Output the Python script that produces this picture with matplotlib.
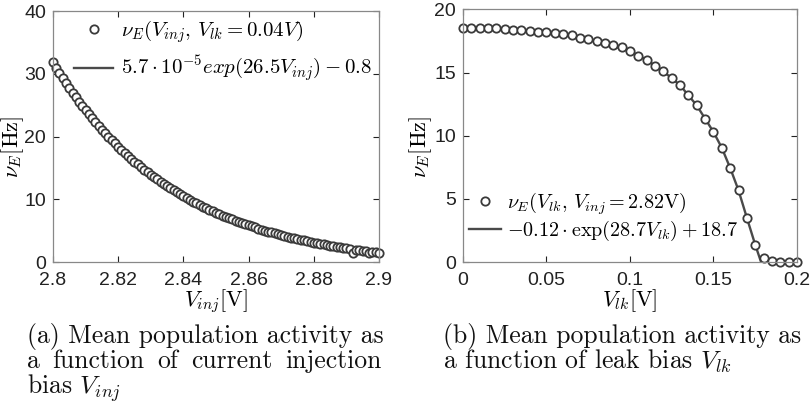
import matplotlib
matplotlib.use("Agg")
import matplotlib.pyplot as plt
import numpy as np
from matplotlib.ticker import FormatStrFormatter

plt.rcParams['mathtext.fontset'] = 'cm'
plt.rcParams['font.family'] = ['Liberation Sans', 'DejaVu Sans']

# --- data ---
# (a) rate vs. injection bias, Vlk = 0.04 V
inj_v = np.linspace(2.8, 2.9, 101)
inj_nu = [31.80, 30.95, 30.12, 29.31, 28.52, 27.75, 27.00, 26.28, 25.57, 24.88,
          24.21, 23.55, 22.92, 22.30, 21.69, 21.10, 20.53, 19.97, 19.43, 18.90,
          18.38, 17.88, 17.39, 16.92, 16.45, 16.00, 15.56, 15.13, 14.72, 14.31,
          13.92, 13.53, 13.16, 12.79, 12.44, 12.09, 11.75, 11.42, 11.10, 10.79,
          10.49, 10.19, 9.91, 9.63, 9.35, 9.09, 8.83, 8.58, 8.33, 8.09,
          7.86, 7.63, 7.41, 7.20, 6.99, 6.78, 6.59, 6.39, 6.20, 6.02,
          5.84, 5.67, 5.50, 5.33, 5.17, 5.02, 4.86, 4.72, 4.57, 4.43,
          4.29, 4.16, 4.03, 3.90, 3.78, 3.66, 3.54, 3.43, 3.32, 3.21,
          3.05, 3.00, 2.90, 2.81, 2.71, 2.62, 2.53, 2.44, 2.36, 2.28,
          2.20, 2.12, 1.45, 1.97, 1.89, 1.82, 1.76, 1.45, 1.55, 1.56, 1.50]
inj_fit_nu = [31.8, 24.2, 18.4, 13.9, 10.5, 7.9, 5.85, 4.3, 3.1, 2.2, 1.5]
inj_fit_v = [2.80, 2.81, 2.82, 2.83, 2.84, 2.85, 2.86, 2.87, 2.88, 2.89, 2.90]

# (b) rate vs. leak bias, Vinj = 2.82 V
lk_v = np.linspace(0.0, 0.2, 41)
lk_nu = [18.57, 18.57, 18.57, 18.55, 18.50, 18.44, 18.40, 18.36, 18.30, 18.23,
         18.18, 18.15, 18.05, 17.94, 17.78, 17.65, 17.50, 17.36, 17.20, 17.00,
         16.70, 16.33, 16.00, 15.56, 15.10, 14.60, 14.00, 13.26, 12.40, 11.36,
         10.30, 9.04, 7.45, 5.68, 3.50, 1.37, 0.34, 0.05, 0.0, 0.0, 0.0]
lk_fit_v = [0.0, 0.02, 0.04, 0.06, 0.08, 0.10, 0.11, 0.12, 0.13, 0.14, 0.15,
            0.155, 0.16, 0.165, 0.17, 0.175, 0.1785]
lk_fit_nu = [18.58, 18.50, 18.30, 18.05, 17.50, 16.70, 16.00, 15.10, 14.00, 12.40,
             10.30, 9.04, 7.45, 5.68, 3.50, 1.37, 0.0]

inj_ticks_x = [2.8, 2.82, 2.84, 2.86, 2.88, 2.9]
inj_ticks_y = [0, 10, 20, 30, 40]
lk_ticks_x = [0, 0.05, 0.1, 0.15, 0.2]
lk_ticks_y = [0, 5, 10, 15, 20]

caption_a = ["(a) Mean population activity as",
             "a function of current injection",
             r"bias $V_{inj}$"]
caption_b = ["(b) Mean population activity as",
             r"a function of leak bias $V_{lk}$"]

mk = dict(ls='none', marker='o', ms=6, mfc='white', mec='#3a3a3a', mew=1.3)
ln = dict(color='#4a4a4a', lw=1.7)


def style_axes(ax):
    ax.tick_params(direction='in', length=4, top=True, right=True,
                   labelsize=14, colors='#222222', pad=5)
    ax.tick_params(axis='x', pad=7)
    for s in ax.spines.values():
        s.set_color('#888888')
        s.set_linewidth(0.9)
    ax.xaxis.set_major_formatter(FormatStrFormatter('%g'))
    ax.yaxis.set_major_formatter(FormatStrFormatter('%g'))


fig = plt.figure(figsize=(8.1, 4.09), dpi=100)

# --- panel (a) ---
ax1 = fig.add_axes([0.0654, 0.3594, 0.4025, 0.6137])
ax1.plot(inj_fit_v, inj_fit_nu, label=r'$5.7\cdot10^{-5}exp(26.5V_{inj})-0.8$', **ln)
ax1.plot(inj_v, inj_nu, label=r'$\nu_E(V_{inj},\, V_{lk}=0.04V)$', clip_on=False, **mk)
ax1.set_xlim(2.8, 2.9)
ax1.set_ylim(0, 40)
ax1.set_xticks(inj_ticks_x)
ax1.set_yticks(inj_ticks_y)
style_axes(ax1)
ax1.set_xlabel(r'$V_{inj}[\mathrm{V}]$', fontsize=16, labelpad=-1)
ax1.set_ylabel(r'$\nu_E[\mathrm{Hz}]$', fontsize=16)
ax1.yaxis.set_label_coords(-0.083, 0.46)
h, l = ax1.get_legend_handles_labels()
ax1.legend(h[::-1], l[::-1], loc='upper right', frameon=False, fontsize=15,
           handlelength=1.9, handletextpad=0.35, labelspacing=0.45,
           borderaxespad=0.05, borderpad=0.3)

# --- panel (b) ---
ax2 = fig.add_axes([0.5716, 0.3594, 0.4123, 0.6174])
ax2.plot(lk_fit_v, lk_fit_nu, label=r'$-0.12\cdot\mathrm{exp}(28.7V_{lk})+18.7$', **ln)
ax2.plot(lk_v, lk_nu, label=r'$\nu_E(V_{lk},\, V_{inj}=2.82\mathrm{V})$', clip_on=False, **mk)
ax2.set_xlim(0, 0.2)
ax2.set_ylim(0, 20)
ax2.set_xticks(lk_ticks_x)
ax2.set_yticks(lk_ticks_y)
style_axes(ax2)
ax2.set_xlabel(r'$V_{lk}[\mathrm{V}]$', fontsize=16, labelpad=-1)
ax2.set_ylabel(r'$\nu_E[\mathrm{Hz}]$', fontsize=16)
ax2.yaxis.set_label_coords(-0.086, 0.455)
h, l = ax2.get_legend_handles_labels()
ax2.legend(h[::-1], l[::-1], loc='lower left', frameon=False, fontsize=14.5,
           handlelength=1.6, handletextpad=0.3, labelspacing=0.1,
           borderaxespad=0.05, borderpad=0.4, bbox_to_anchor=(-0.01, 0.04))

# --- captions ---
cap = dict(fontsize=18.5, family='cmr10', color='#111111', va='center', ha='left')
fig.text(27 / 810, 1 - 336 / 409, caption_a[0], **cap)
fig.text(27 / 810, 1 - 388 / 409, caption_a[2], **cap)
fig.text(443 / 810, 1 - 336 / 409, caption_b[0], **cap)
fig.text(443 / 810, 1 - 361 / 409, caption_b[1], **cap)

# justified middle line of caption (a)
fig.canvas.draw()
r = fig.canvas.get_renderer()
left_px, right_px = 27, 382
words = caption_a[1].split()
txts = [fig.text(0, 1 - 361 / 409, w, **cap) for w in words]
widths = [t.get_window_extent(r).width for t in txts]
gap = (right_px - left_px - sum(widths)) / (len(words) - 1)
x = left_px
for t, w in zip(txts, widths):
    t.set_x(x / 810)
    x += w + gap

fig.savefig('out.png', dpi=100)
